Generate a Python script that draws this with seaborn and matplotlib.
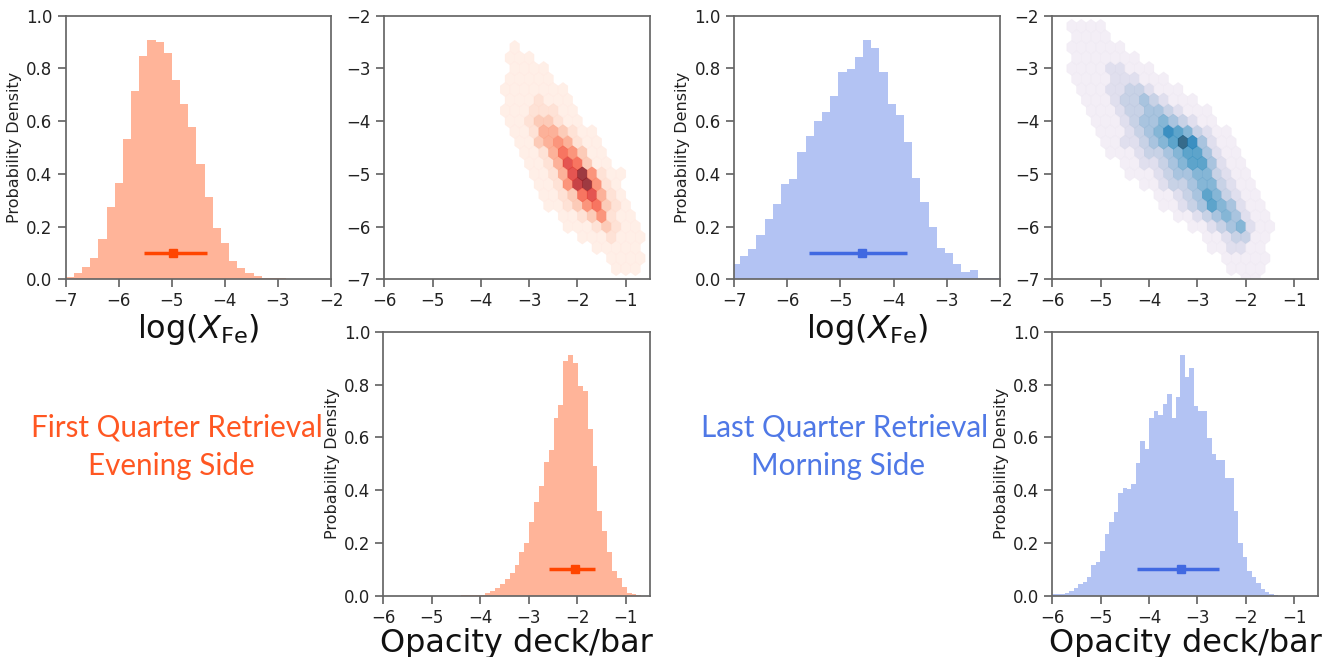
import numpy as np
import pandas as pd
import matplotlib
matplotlib.use('Agg')
import matplotlib.pyplot as plt
from matplotlib.colors import PowerNorm
import seaborn as sns

# ---- 1D posteriors: bin start, bin width, bin heights (probability density) ----
fe_first_start, fe_first_width = -7.0, 0.154
fe_first = [0.010, 0.023, 0.048, 0.080, 0.153, 0.275, 0.367, 0.532, 0.716, 0.848,
            0.908, 0.901, 0.857, 0.756, 0.664, 0.577, 0.436, 0.311, 0.193, 0.137,
            0.070, 0.042, 0.023, 0.013, 0.006, 0.004, 0.003, 0.002]

fe_last_start, fe_last_width = -7.04, 0.154
fe_last = [0.058, 0.090, 0.114, 0.167, 0.230, 0.284, 0.363, 0.380, 0.484, 0.545,
           0.602, 0.636, 0.697, 0.785, 0.796, 0.845, 0.908, 0.879, 0.785, 0.664,
           0.623, 0.520, 0.383, 0.295, 0.197, 0.118, 0.099, 0.057, 0.029, 0.035,
           0.006, 0.006, 0.006]

deck_first_start, deck_first_width = -4.4, 0.1005
deck_first = [0.001, 0.002, 0.002, 0.003, 0.004, 0.009, 0.019, 0.030, 0.044, 0.063,
              0.086, 0.116, 0.164, 0.200, 0.278, 0.356, 0.417, 0.508, 0.552, 0.675,
              0.722, 0.888, 0.913, 0.880, 0.795, 0.776, 0.630, 0.490, 0.320, 0.245,
              0.164, 0.095, 0.066, 0.032, 0.012, 0.005, 0.002]

deck_last_start, deck_last_width = -6.02, 0.092
deck_last = [0.006, 0.008, 0.005, 0.010, 0.019, 0.030, 0.044, 0.053, 0.072, 0.117,
             0.129, 0.170, 0.234, 0.280, 0.318, 0.388, 0.408, 0.404, 0.425, 0.503,
             0.585, 0.556, 0.672, 0.698, 0.686, 0.726, 0.764, 0.672, 0.754, 0.910,
             0.827, 0.862, 0.720, 0.700, 0.700, 0.597, 0.537, 0.514, 0.514, 0.446,
             0.446, 0.319, 0.198, 0.145, 0.095, 0.072, 0.047, 0.025, 0.013, 0.006,
             0.003]

# median and 1-sigma range (lo, median, hi)
fe_first_ci = (-5.52, -4.97, -4.34)
fe_last_ci = (-5.60, -4.60, -3.75)
deck_first_ci = (-2.58, -2.05, -1.63)
deck_last_ci = (-4.25, -3.34, -2.55)

# ---- 2D posteriors: density level (0-9) on a staggered grid, step 0.2 ----
# rows listed top to bottom; odd rows (counted from the bottom) shift by half a step
hex_first_x0, hex_first_ytop, hex_first_ncol = -3.8, -2.6, 17
hex_first_rows = [
    "00100000000000000",
    "00111000000000000",
    "00111100000000000",
    "00111110000000000",
    "01111111000000000",
    "00111211100000000",
    "01112221100000000",
    "00112332110000000",
    "00112443211000000",
    "00011345421100000",
    "00011246531100000",
    "00001124763110000",
    "00001124795211000",
    "00000112589521000",
    "00000112367421000",
    "00000011235632100",
    "00000001123521100",
    "00000000111232110",
    "00000000011121110",
    "00000000000111110",
    "00000000000011110",
    "00000000000001110",
]

hex_last_x0, hex_last_ytop, hex_last_ncol = -5.8, -2.2, 25
hex_last_rows = [
    "01111",
    "01111",
    "0111111",
    "01111111",
    "0111122111",
    "01111222111",
    "0011122332111",
    "00111233432111",
    "0001112334432111",
    "0001112344543211",
    "000011123457653211",
    "000011223456974211",
    "0000011123345664211",
    "0000001122345664211",
    "00000001112344553211",
    "00000000112334553211",
    "000000000011234653211",
    "000000000011234654211",
    "0000000000001123454211",
    "0000000000000112345211",
    "0000000000000001123311",
    "000000000000000112211",
    "0000000000000000011111",
    "000000000000000001111",
    "000000000000000000011",
]
hex_step = 0.2

c_first = 'orangered'
c_last = 'royalblue'

sns.set_theme(style='ticks')
plt.rcParams['font.family'] = ['DejaVu Sans']
plt.rcParams['axes.edgecolor'] = '#666666'
plt.rcParams['xtick.color'] = '#666666'
plt.rcParams['ytick.color'] = '#666666'
plt.rcParams['xtick.labelcolor'] = '#222222'
plt.rcParams['ytick.labelcolor'] = '#222222'

fig = plt.figure(figsize=(13.39, 6.57), dpi=100)

def hist_panel(rect, start, width, heights, ci, color, xlim, xlabel=None):
    ax = fig.add_axes(rect)
    edges = [start + width * i for i in range(len(heights) + 1)]
    centers = [e + width / 2 for e in edges[:-1]]
    df = pd.DataFrame({'x': centers, 'w': heights})
    sns.histplot(data=df, x='x', weights='w', bins=edges, element='step', fill=True,
                 color=color, alpha=0.4, linewidth=0, ax=ax)
    lo, mid, hi = ci
    ax.errorbar([mid], [0.1], xerr=[[mid - lo], [hi - mid]], fmt='s', color=color,
                ms=6, lw=2.5, capsize=0)
    ax.set_xlim(*xlim)
    ax.set_ylim(0, 1)
    ax.set_xticks(np.arange(np.ceil(xlim[0]), xlim[1] + 0.01, 1))
    ax.set_yticks(np.arange(0, 1.01, 0.2))
    ax.set_ylabel('Probability Density', fontsize=11.5, color='#222222', labelpad=3)
    ax.set_xlabel(xlabel if xlabel else '', fontsize=23, color='#111111', labelpad=1)
    ax.tick_params(labelsize=12)
    return ax

def hex_panel(rect, x0, ytop, ncol, rows, cmap, gamma):
    ax = fig.add_axes(rect)
    nrow = len(rows)
    y0 = ytop - hex_step * (nrow - 1)
    xs, ys, cs = [], [], []
    for r, row in enumerate(rows):
        k = nrow - 1 - r
        row = row.ljust(ncol, '0')
        for i, ch in enumerate(row):
            if ch != '0':
                xs.append(x0 + hex_step * i + (hex_step / 2 if k % 2 else 0))
                ys.append(y0 + hex_step * k)
                cs.append(int(ch))
    ny = (nrow - 1) // 2 + 1
    ax.hexbin(xs, ys, C=cs, reduce_C_function=np.max,
              gridsize=(ncol - 1, ny),
              extent=(x0, x0 + hex_step * (ncol - 1), y0, y0 + 2 * hex_step * ny),
              cmap=cmap, norm=PowerNorm(gamma=gamma, vmin=0, vmax=9.5),
              alpha=0.8, linewidths=0.3, edgecolors='face')
    ax.set_xlim(-6, -0.5)
    ax.set_ylim(-7, -2)
    ax.set_xticks(np.arange(-6, -0.5, 1))
    ax.set_yticks(np.arange(-7, -1.9, 1))
    ax.tick_params(labelsize=12)
    return ax

xfe = r'$\log(X_{\mathrm{Fe}})$'
deck = 'Opacity deck/bar'

hist_panel([0.0491, 0.5749, 0.1981, 0.4012], fe_first_start, fe_first_width, fe_first,
           fe_first_ci, c_first, (-7, -2), xfe)
hex_panel([0.2870, 0.5749, 0.1984, 0.4012], hex_first_x0, hex_first_ytop,
          hex_first_ncol, hex_first_rows, 'Reds', 1.25)
hist_panel([0.2863, 0.0933, 0.1992, 0.4018], deck_first_start, deck_first_width, deck_first,
           deck_first_ci, c_first, (-6, -0.5), deck)

hist_panel([0.5482, 0.5749, 0.1987, 0.4012], fe_last_start, fe_last_width, fe_last,
           fe_last_ci, c_last, (-7, -2), xfe)
hex_panel([0.7859, 0.5749, 0.1987, 0.4012], hex_last_x0, hex_last_ytop,
          hex_last_ncol, hex_last_rows, 'PuBu', 1.0)
hist_panel([0.7859, 0.0933, 0.1987, 0.4018], deck_last_start, deck_last_width, deck_last,
           deck_last_ci, c_last, (-6, -0.5), deck)

txt_font = ['Lato', 'DejaVu Sans']
fig.text(0.132, 0.349, 'First Quarter Retrieval', ha='center', va='center',
         fontsize=21.3, color='#ff5722', family=txt_font)
fig.text(0.128, 0.291, 'Evening Side', ha='center', va='center',
         fontsize=21.3, color='#ff5722', family=txt_font)
fig.text(0.631, 0.349, 'Last Quarter Retrieval', ha='center', va='center',
         fontsize=21.3, color='#4f78e6', family=txt_font)
fig.text(0.626, 0.291, 'Morning Side', ha='center', va='center',
         fontsize=21.3, color='#4f78e6', family=txt_font)

fig.savefig('out.png', dpi=100)
